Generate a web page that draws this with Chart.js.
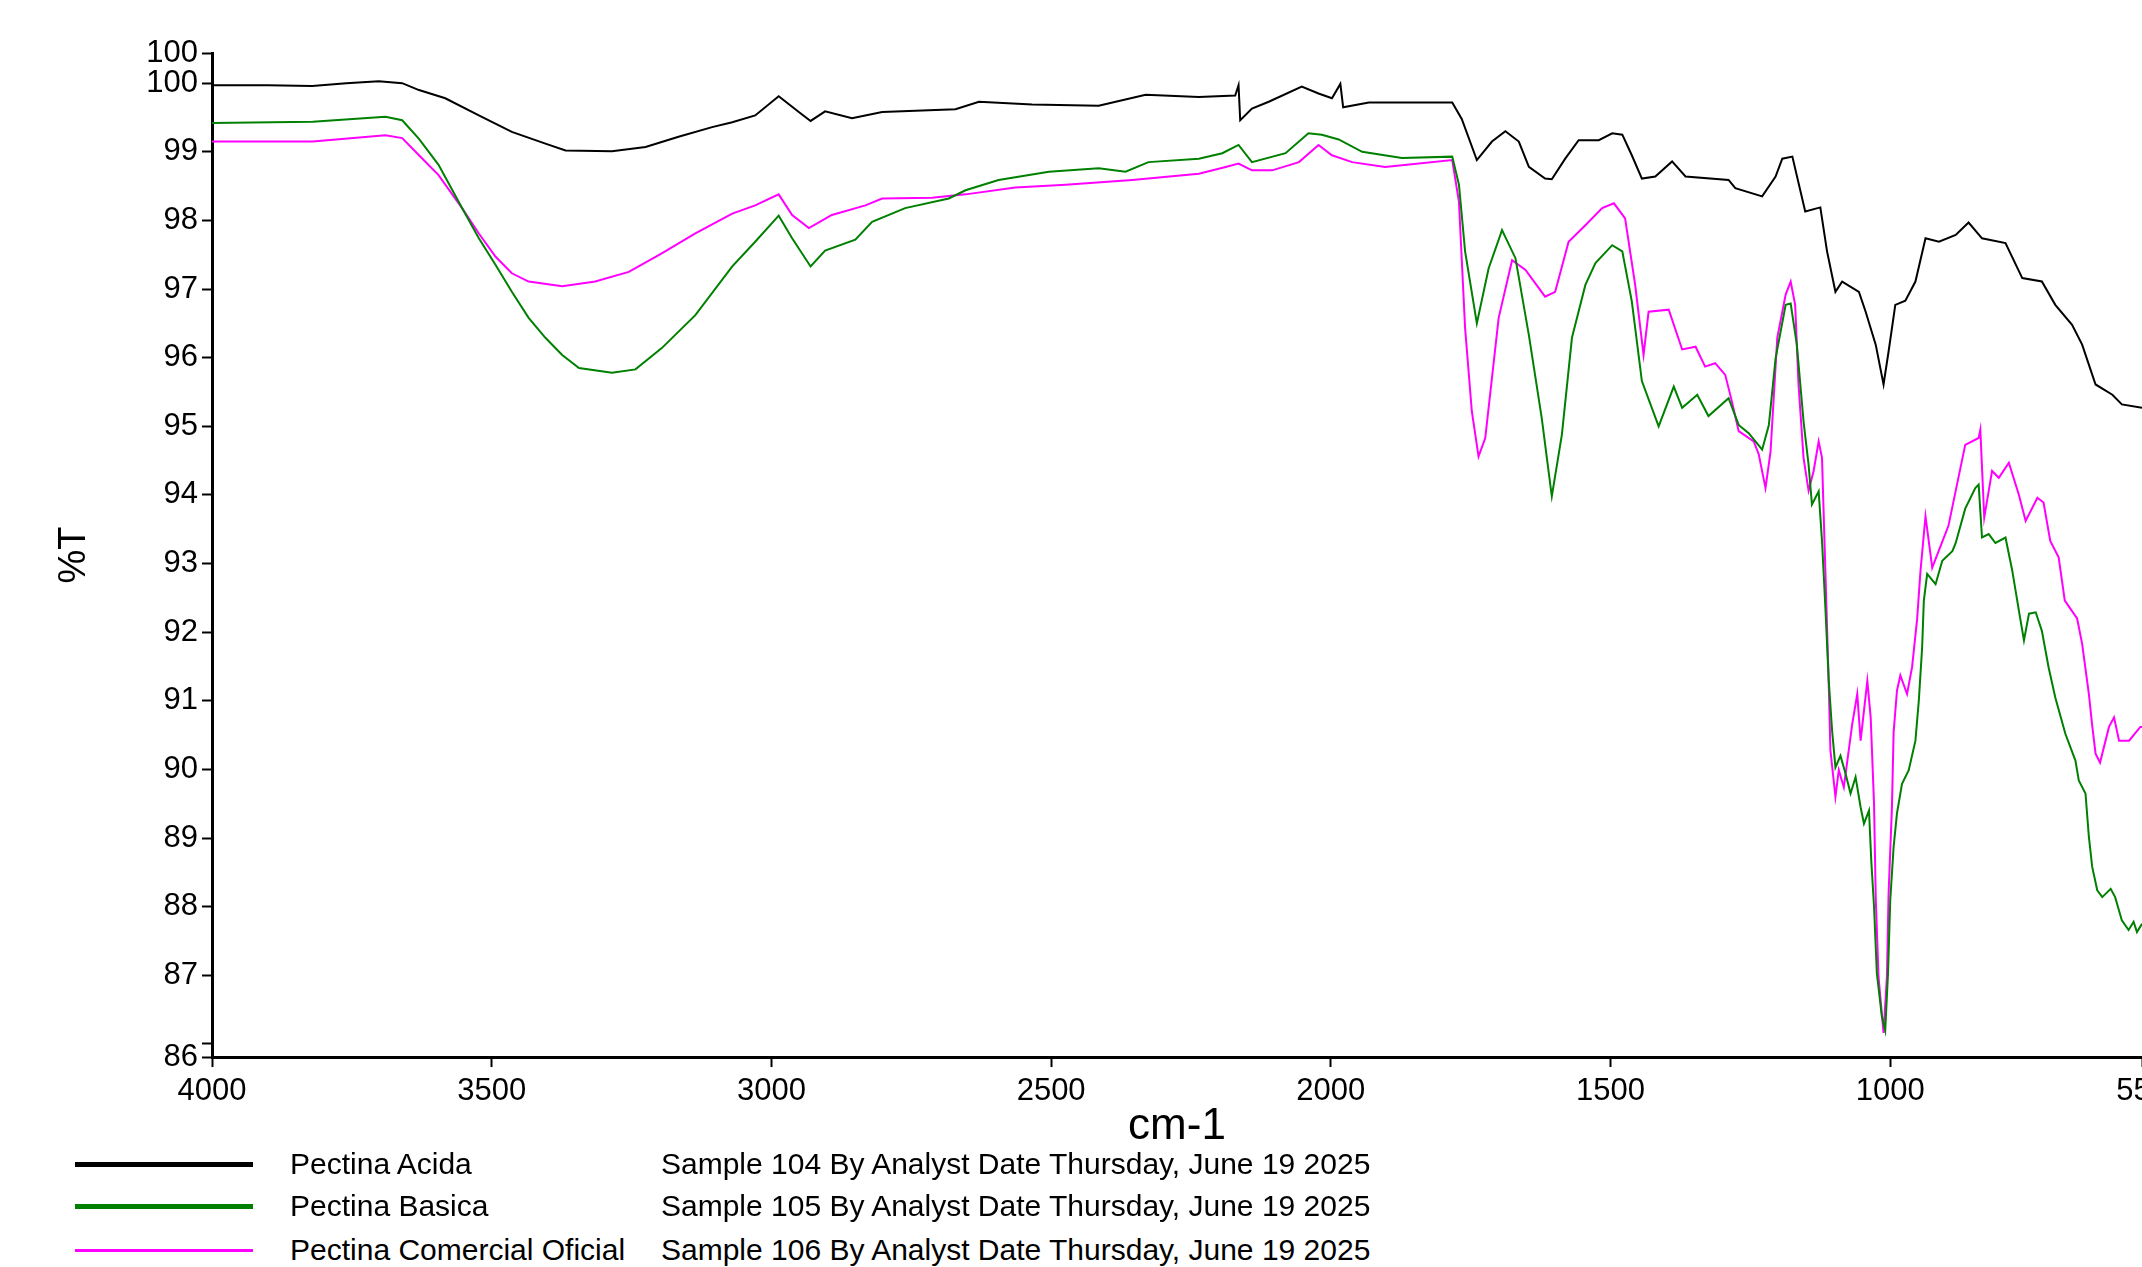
<!DOCTYPE html>
<html>
<head>
<meta charset="utf-8">
<title>Pectina FTIR</title>
<script src="https://cdn.jsdelivr.net/npm/chart.js@4.4.1/dist/chart.umd.min.js"></script>
<style>
    body { margin: 0; background: #fff; overflow: hidden; }
    #wrap { position: relative; width: 2142px; height: 1267px; overflow: hidden; }
    #chartBox { position: absolute; left: 0; top: 0; }
    .leg-line { position: absolute; left: 75px; width: 178px; }
    .leg-text { position: absolute; font-family: "Liberation Sans", Arial, sans-serif; font-size: 30px; color: #000; white-space: nowrap; line-height: 1; }
</style>
</head>
<body>
<div id="wrap">
    <div id="chartBox"><canvas id="ftirChart" width="2180" height="1155"></canvas></div>

    <div class="leg-line" style="top:1162px; border-top:5px solid #000;"></div>
    <div class="leg-text" style="left:290px; top:1149px;">Pectina Acida</div>
    <div class="leg-text" style="left:661px; top:1149px;">Sample 104 By Analyst Date Thursday, June 19 2025</div>

    <div class="leg-line" style="top:1204px; border-top:5px solid #008000;"></div>
    <div class="leg-text" style="left:290px; top:1191px;">Pectina Basica</div>
    <div class="leg-text" style="left:661px; top:1191px;">Sample 105 By Analyst Date Thursday, June 19 2025</div>

    <div class="leg-line" style="top:1249px; border-top:3px solid #ff00ff;"></div>
    <div class="leg-text" style="left:290px; top:1235px;">Pectina Comercial Oficial</div>
    <div class="leg-text" style="left:661px; top:1235px;">Sample 106 By Analyst Date Thursday, June 19 2025</div>
</div>

<script>
// wavenumber (cm-1) / %T pairs
const acidaWn = [4000, 3900, 3821, 3760, 3702, 3660, 3630, 3583, 3523, 3464, 3404, 3368, 3285, 3225, 3166, 3106,
    3070, 3029, 2987, 2951, 2930, 2904, 2856, 2802, 2671, 2629, 2534, 2415, 2331, 2236, 2171, 2165, 2162, 2141,
    2111, 2052, 2022, 1998, 1983, 1978, 1932, 1783, 1766, 1739, 1712, 1688, 1664, 1646, 1617, 1605, 1581, 1557,
    1521, 1497, 1479, 1462, 1444, 1420, 1390, 1366, 1289, 1277, 1229, 1205, 1193, 1175, 1152, 1125, 1113, 1098,
    1086, 1056, 1044, 1026, 1012, 1003, 991, 973, 955, 937, 913, 883, 860, 836, 794, 764, 729, 705, 675, 657,
    633, 603, 586, 550];
const acidaT = [99.97, 99.97, 99.96, 100.0, 100.03, 100.0, 99.9, 99.78, 99.53, 99.29, 99.12, 99.02, 99.01, 99.07, 99.22, 99.36,
    99.43, 99.53, 99.81, 99.58, 99.45, 99.59, 99.49, 99.58, 99.62, 99.73, 99.69, 99.67, 99.83, 99.8, 99.82, 99.97, 99.46, 99.63,
    99.73, 99.95, 99.85, 99.78, 99.99, 99.65, 99.72, 99.72, 99.48, 98.88, 99.15, 99.3, 99.15, 98.78, 98.61, 98.6, 98.9, 99.17,
    99.17, 99.27, 99.25, 98.95, 98.61, 98.64, 98.86, 98.64, 98.59, 98.47, 98.35, 98.64, 98.9, 98.93, 98.13, 98.19, 97.55, 96.96,
    97.11, 96.96, 96.67, 96.19, 95.61, 96.09, 96.77, 96.83, 97.11, 97.74, 97.69, 97.79, 97.97, 97.74, 97.67, 97.16, 97.11, 96.77, 96.48, 96.19,
    95.61, 95.46, 95.32, 95.27];

const basicaWn = [4000, 3820, 3690, 3660, 3630, 3595, 3553, 3523, 3493, 3464, 3434, 3404, 3374, 3344, 3285, 3243, 3196, 3136,
    3070, 3029, 2987, 2963, 2930, 2904, 2850, 2820, 2761, 2683, 2653, 2594, 2504, 2415, 2367, 2326, 2236, 2194, 2165, 2141,
    2081, 2040, 2016, 1986, 1944, 1873, 1783, 1771, 1760, 1739, 1718, 1694, 1670, 1646, 1623, 1605, 1587, 1569, 1545, 1527,
    1497, 1479, 1462, 1444, 1414, 1387, 1372, 1345, 1325, 1289, 1271, 1253, 1229, 1217, 1205, 1187, 1178, 1167, 1155, 1146,
    1140, 1128, 1122, 1116, 1110, 1104, 1098, 1089, 1080, 1071, 1062, 1053, 1047, 1038, 1034, 1029, 1024, 1015, 1009, 1004,
    1000, 994, 988, 979, 967, 955, 949, 943, 940, 934, 919, 907, 889, 883, 866, 848, 842, 836, 824, 812, 794, 782, 770, 761,
    752, 740, 729, 717, 705, 687, 669, 663, 651, 645, 639, 630, 621, 606, 598, 586, 574, 565, 559, 550];
const basicaT = [99.42, 99.44, 99.51, 99.46, 99.19, 98.81, 98.18, 97.74, 97.35, 96.96, 96.58, 96.29, 96.04, 95.85, 95.78, 95.83, 96.14, 96.62,
    97.33, 97.69, 98.07, 97.74, 97.33, 97.56, 97.72, 97.98, 98.18, 98.32, 98.44, 98.59, 98.71, 98.76, 98.71, 98.85, 98.9, 98.98, 99.1, 98.85,
    98.98, 99.27, 99.25, 99.18, 99.0, 98.91, 98.93, 98.52, 97.55, 96.5, 97.3, 97.86, 97.45, 96.33, 95.12, 93.98, 94.88, 96.29, 97.06, 97.38,
    97.64, 97.55, 96.82, 95.66, 95.0, 95.58, 95.27, 95.46, 95.15, 95.41, 95.02, 94.9, 94.66, 95.02, 95.99, 96.77, 96.79, 96.19, 95.07, 94.44,
    93.86, 94.05, 93.33, 92.36, 91.3, 90.57, 90.03, 90.2, 89.94, 89.65, 89.89, 89.45, 89.21, 89.4, 88.68, 88.0, 87.03, 86.4, 86.2, 87.03,
    88.1, 88.87, 89.36, 89.79, 89.99, 90.42, 91.0, 91.78, 92.46, 92.85, 92.7, 93.04, 93.18, 93.3, 93.8, 94.1, 94.15, 93.38, 93.43, 93.3, 93.38, 92.9, 92.31, 91.88,
    92.27, 92.29, 92.02, 91.49, 91.05, 90.52, 90.13, 89.84, 89.65, 89.02, 88.58, 88.24, 88.14, 88.26, 88.14, 87.8, 87.66, 87.78, 87.63, 87.75];

const comercialWn = [4000, 3820, 3690, 3660, 3630, 3595, 3553, 3523, 3493, 3464, 3434, 3374, 3315, 3255, 3196, 3136,
    3070, 3029, 2987, 2963, 2933, 2892, 2832, 2802, 2713, 2653, 2564, 2474, 2355, 2236, 2188, 2165, 2141,
    2105, 2057, 2022, 1998, 1962, 1903, 1783, 1771, 1760, 1748, 1736, 1724, 1700, 1676, 1652, 1617, 1599, 1575, 1545,
    1515, 1494, 1474, 1456, 1441, 1432, 1396, 1372, 1348, 1331, 1313, 1295, 1283, 1271, 1244, 1235, 1223, 1214, 1202,
    1187, 1178, 1170, 1164, 1155, 1146, 1137, 1128, 1122, 1116, 1110, 1107, 1098, 1092, 1083, 1068, 1059, 1053, 1041,
    1035, 1029, 1026, 1021, 1012, 1006, 1003, 997, 994, 988, 982, 970, 961, 952, 946, 937, 925, 896, 866, 842, 839, 832,
    818, 806, 788, 770, 758, 737, 726, 714, 699, 688, 666, 657, 645, 639, 633, 625, 609, 600, 591, 573, 553, 550];
const comercialT = [99.15, 99.15, 99.24, 99.2, 98.95, 98.66, 98.18, 97.81, 97.47, 97.23, 97.11, 97.04, 97.11, 97.25, 97.52, 97.81,
    98.1, 98.22, 98.38, 98.08, 97.89, 98.08, 98.22, 98.32, 98.33, 98.38, 98.48, 98.52, 98.59, 98.68, 98.78, 98.83, 98.73,
    98.73, 98.85, 99.1, 98.95, 98.85, 98.78, 98.88, 98.27, 96.43, 95.22, 94.56, 94.83, 96.58, 97.42, 97.28, 96.89, 96.96, 97.69, 97.93,
    98.18, 98.25, 98.03, 97.06, 96.04, 96.67, 96.7, 96.12, 96.16, 95.87, 95.92, 95.75, 95.36, 94.93, 94.78, 94.59, 94.1, 94.63, 96.29,
    96.92, 97.11, 96.77, 95.61, 94.54, 94.06, 94.35, 94.78, 94.54, 92.89, 91.25, 90.28, 89.6, 89.99, 89.74, 90.66, 91.1, 90.42, 91.29,
    90.76, 89.5, 88.14, 86.98, 86.16, 86.98, 88.19, 89.45, 90.54, 91.15, 91.37, 91.1, 91.49, 92.19, 92.89, 93.69, 92.94, 93.55, 94.73, 94.83, 94.95, 93.67,
    94.35, 94.25, 94.47, 94.0, 93.62, 93.96, 93.89, 93.33, 93.09, 92.46, 92.2, 91.83, 91.1, 90.64, 90.23, 90.1, 90.62, 90.76, 90.42, 90.42, 90.62, 90.62];

const xTicks = [4000, 3500, 3000, 2500, 2000, 1500, 1000, 550];
const yMin = 85.81;
const yMax = 100.44;
const yTicks = [yMin, 86, 87, 88, 89, 90, 91, 92, 93, 94, 95, 96, 97, 98, 99, 100, yMax];

const FONT = "'Liberation Sans', Arial, sans-serif";

function toPoints(wn, t) {
    return wn.map((w, i) => ({ x: w, y: t[i] }));
}

function makeSet(label, wn, t, color, width) {
    return {
        label: label,
        data: toPoints(wn, t),
        borderColor: color,
        borderWidth: width,
        pointRadius: 0,
        tension: 0,
        fill: false
    };
}

const ctx = document.getElementById("ftirChart");
new Chart(ctx, {
    type: "line",
    data: {
        datasets: [
            makeSet("Pectina Acida", acidaWn, acidaT, "#000000", 2),
            makeSet("Pectina Basica", basicaWn, basicaT, "#008000", 2),
            makeSet("Pectina Comercial Oficial", comercialWn, comercialT, "#ff00ff", 2)
        ]
    },
    options: {
        responsive: false,
        animation: false,
        devicePixelRatio: 1,
        layout: { padding: { left: 0, right: 38, top: 53, bottom: 2 } },
        plugins: {
            legend: { display: false },
            tooltip: { enabled: false }
        },
        scales: {
            x: {
                type: "linear",
                reverse: true,
                min: 550,
                max: 4000,
                afterBuildTicks: scale => { scale.ticks = xTicks.map(v => ({ value: v })); },
                afterFit: scale => { scale.paddingLeft = 0; scale.paddingRight = 0; scale.height = 96; },
                ticks: {
                    autoSkip: false,
                    maxRotation: 0,
                    color: "#000",
                    padding: 6,
                    font: { family: FONT, size: 31 },
                    callback: v => String(v)
                },
                grid: { drawOnChartArea: false, drawTicks: true, tickLength: 10, tickWidth: 2, tickColor: "#000" },
                border: { display: true, color: "#000", width: 3 },
                title: { display: true, text: "cm-1", color: "#000", font: { family: FONT, size: 44 }, padding: 0 }
            },
            y: {
                min: yMin,
                max: yMax,
                afterBuildTicks: scale => { scale.ticks = yTicks.map(v => ({ value: v })); },
                afterFit: scale => { scale.width = 212; scale.paddingTop = 0; scale.paddingBottom = 0; },
                ticks: {
                    autoSkip: false,
                    color: "#000",
                    padding: 4,
                    font: { family: FONT, size: 31 },
                    callback: v => {
                        if (v === yMax) return "100";
                        if (v === yMin) return "86";
                        if (v === 86) return "";
                        return String(v);
                    }
                },
                grid: { drawOnChartArea: false, drawTicks: true, tickLength: 10, tickWidth: 2, tickColor: "#000" },
                border: { display: true, color: "#000", width: 3 },
                title: { display: true, text: "%T", color: "#000", font: { family: FONT, size: 38 }, padding: { top: 52, bottom: 0 } }
            }
        }
    }
});
</script>
</body>
</html>
